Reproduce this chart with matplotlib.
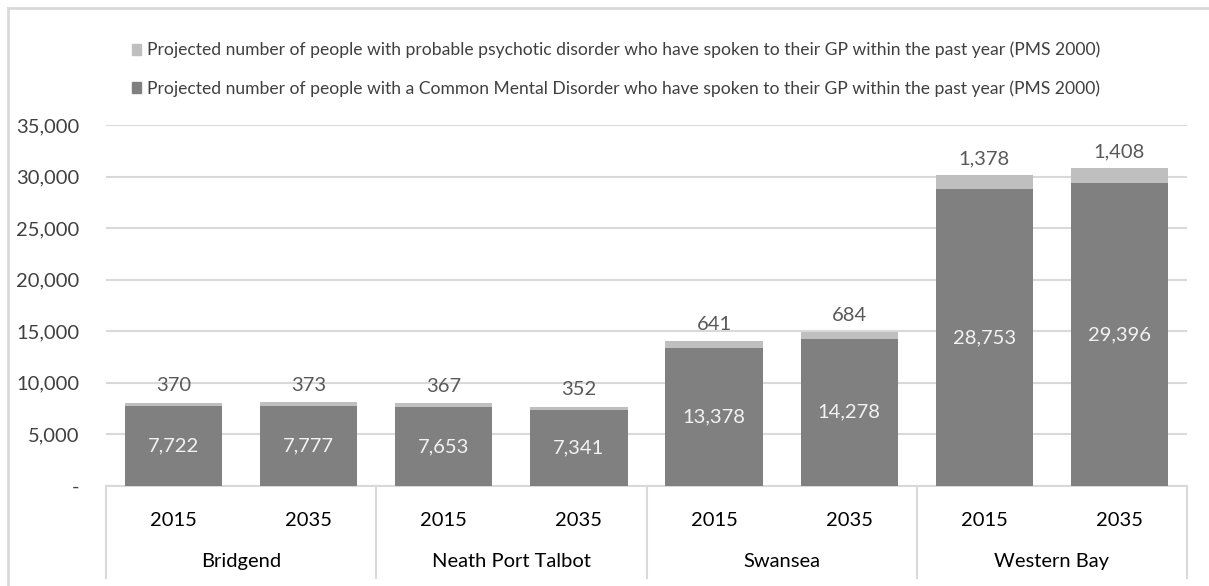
import matplotlib.pyplot as plt
from matplotlib.lines import Line2D
from matplotlib.patches import Patch

plt.rcParams['font.family'] = ['Lato', 'DejaVu Sans']

areas = ['Bridgend', 'Neath Port Talbot', 'Swansea', 'Western Bay']
years = ['2015', '2035']
common = [7722, 7777, 7653, 7341, 13378, 14278, 28753, 29396]
psychotic = [370, 373, 367, 352, 641, 684, 1378, 1408]
yticks = [0, 5000, 10000, 15000, 20000, 25000, 30000, 35000]
ytick_labels = ['-', '5,000', '10,000', '15,000', '20,000', '25,000', '30,000', '35,000']

dark = '#808080'
light = '#bfbfbf'
grid = '#d9d9d9'

fig = plt.figure(figsize=(12.09, 5.86), dpi=100)
ax = fig.add_axes([106 / 1209, 1 - 486 / 586, (1187 - 106) / 1209, (486 - 125) / 586])

x = list(range(len(common)))
ax.bar(x, common, width=0.72, color=dark, zorder=3)
ax.bar(x, psychotic, width=0.72, bottom=common, color=light, zorder=3)

for i in x:
    ax.text(i, common[i] / 2, f'{common[i]:,}', ha='center', va='center',
            color='#f2f2f2', fontsize=14.5, zorder=4)
    ax.annotate(f'{psychotic[i]:,}', (i, common[i] + psychotic[i]), xytext=(0, 12),
                textcoords='offset points', ha='center', va='center',
                color='#595959', fontsize=14.5, zorder=4)

ax.set_xlim(-0.5, len(common) - 0.5)
ax.set_ylim(0, 35000)
ax.set_yticks(yticks)
ax.set_yticklabels(ytick_labels, fontsize=14.5, color='#404040')
ax.yaxis.grid(True, color=grid, linewidth=1.5, zorder=0)
ax.tick_params(axis='y', length=0, pad=19)
ax.tick_params(axis='x', length=0, labelbottom=False)
for s in ['top', 'right', 'left']:
    ax.spines[s].set_visible(False)
ax.spines['bottom'].set_color(grid)
ax.spines['bottom'].set_linewidth(1.5)

# two-level category axis
trans = ax.get_xaxis_transform()
for i in x:
    ax.text(i, -0.095, years[i % 2], transform=trans, ha='center', va='center',
            fontsize=14.5, color='#000000')
for k, name in enumerate(areas):
    ax.text(2 * k + 0.5, -0.21, name, transform=trans, ha='center', va='center',
            fontsize=14.5, color='#000000')
for xb in [-0.5, 1.5, 3.5, 5.5, 7.5]:
    ax.add_line(Line2D([xb, xb], [0, -0.255], transform=trans, color=grid,
                       linewidth=1.5, clip_on=False))

handles = [Patch(color=light), Patch(color=dark)]
labels = ['Projected number of people with probable psychotic disorder who have spoken to their GP within the past year (PMS 2000)',
          'Projected number of people with a Common Mental Disorder who have spoken to their GP within the past year (PMS 2000)']
fig.legend(handles, labels, loc='upper left', bbox_to_anchor=(116 / 1209, 1 - 26 / 586),
           frameon=False, fontsize=12.6, handlelength=0.5, handleheight=0.6,
           handletextpad=0.35, labelspacing=1.25, labelcolor='#404040')

# outer chart border
fig.add_artist(Line2D([8 / 1209, 8 / 1209], [0, 1 - 8 / 586], transform=fig.transFigure,
                      color=grid, linewidth=2))
fig.add_artist(Line2D([8 / 1209, 1], [1 - 8 / 586, 1 - 8 / 586], transform=fig.transFigure,
                      color=grid, linewidth=2))

fig.savefig('out.png', dpi=100)
